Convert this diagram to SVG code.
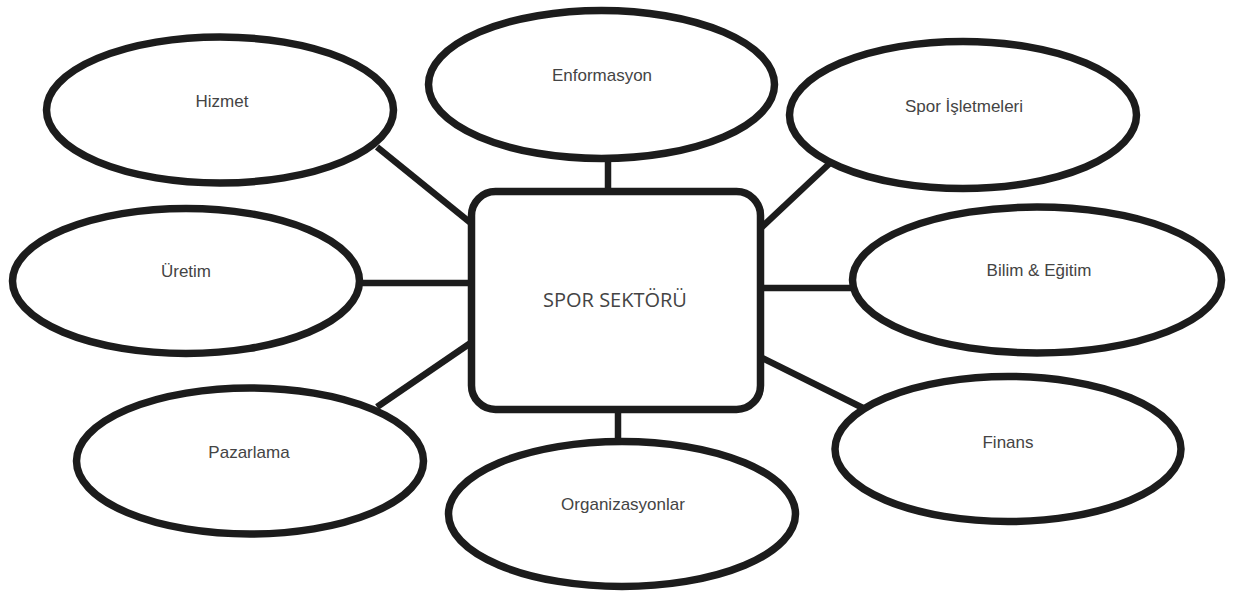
<svg xmlns="http://www.w3.org/2000/svg" width="1233" height="592" viewBox="0 0 1233 592">
  <style>
    .bg { fill: #ffffff; }
    .ell { fill: #ffffff; stroke: #1c1c1c; stroke-width: 7.5; }
    .box { fill: #ffffff; stroke: #1c1c1c; stroke-width: 7.5; }
    .conn line { stroke: #1c1c1c; stroke-width: 6.5; }
    .lbl { font-family: "Liberation Sans", Arial, sans-serif; font-size: 17px; fill: #444444; text-anchor: middle; }
    .title { font-family: "Open Sans", "Noto Sans", sans-serif; font-size: 20px; fill: #444444; text-anchor: middle; }
  </style>
  <rect class="bg" x="0" y="0" width="1233" height="592"/>
  <g id="connectors" class="conn">
    <line x1="377" y1="147" x2="472" y2="224"/>
    <line x1="608" y1="160" x2="608" y2="192"/>
    <line x1="829" y1="164" x2="761" y2="228"/>
    <line x1="362" y1="283" x2="472" y2="283"/>
    <line x1="760" y1="288" x2="851" y2="288"/>
    <line x1="377" y1="407" x2="472" y2="342"/>
    <line x1="618" y1="409" x2="618" y2="440"/>
    <line x1="760" y1="357" x2="863" y2="408"/>
  </g>
  <g id="hizmet">
    <ellipse class="ell" cx="220" cy="110" rx="173.5" ry="73"/>
    <text class="lbl" x="222" y="107">Hizmet</text>
  </g>
  <g id="enformasyon">
    <ellipse class="ell" cx="601.5" cy="84.5" rx="173" ry="74"/>
    <text class="lbl" x="602" y="81">Enformasyon</text>
  </g>
  <g id="spor-isletmeleri">
    <ellipse class="ell" cx="963" cy="115" rx="173.5" ry="73.5"/>
    <text class="lbl" x="964" y="112">Spor İşletmeleri</text>
  </g>
  <g id="uretim">
    <ellipse class="ell" cx="186" cy="281" rx="173.5" ry="72.5"/>
    <text class="lbl" x="186" y="277">Üretim</text>
  </g>
  <g id="bilim-egitim">
    <ellipse class="ell" cx="1037" cy="280" rx="184.5" ry="73"/>
    <text class="lbl" x="1039" y="276">Bilim &amp; Eğitim</text>
  </g>
  <g id="pazarlama">
    <ellipse class="ell" cx="250" cy="461" rx="173.5" ry="73"/>
    <text class="lbl" x="249" y="458">Pazarlama</text>
  </g>
  <g id="organizasyonlar">
    <ellipse class="ell" cx="622" cy="514" rx="173.5" ry="72.5"/>
    <text class="lbl" x="623" y="510">Organizasyonlar</text>
  </g>
  <g id="finans">
    <ellipse class="ell" cx="1008" cy="449" rx="173" ry="72.5"/>
    <text class="lbl" x="1008" y="448">Finans</text>
  </g>
  <g id="spor-sektoru">
    <rect class="box" x="471.5" y="191.5" width="289" height="218" rx="24" ry="24"/>
    <text class="title" x="615" y="307">SPOR SEKTÖRÜ</text>
  </g>
</svg>
